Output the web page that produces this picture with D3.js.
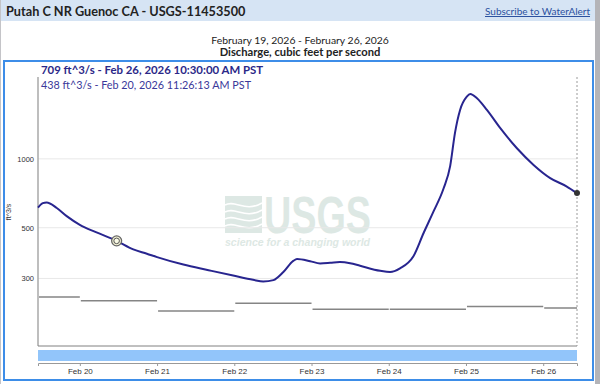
<!DOCTYPE html>
<html>
<head>
<meta charset="utf-8">
<script src="https://cdn.jsdelivr.net/npm/d3@7"></script>
<style>
  body { margin: 0; background: #fff; }
  svg { display: block; }
</style>
</head>
<body>
<svg id="chart"></svg>
<script>
// discharge readings, ft^3/s
const times = [
  "2026-02-19 11:00", "2026-02-19 12:30", "2026-02-19 13:40",
  "2026-02-19 16:50", "2026-02-19 19:55", "2026-02-20 00:00", "2026-02-20 05:00",
  "2026-02-20 11:26", "2026-02-20 16:37", "2026-02-20 20:50", "2026-02-21 00:00",
  "2026-02-21 08:10", "2026-02-21 16:00", "2026-02-22 00:00", "2026-02-22 05:50",
  "2026-02-22 09:00", "2026-02-22 12:10", "2026-02-22 15:15", "2026-02-22 18:20",
  "2026-02-22 19:30", "2026-02-22 23:35", "2026-02-23 02:40", "2026-02-23 05:45",
  "2026-02-23 08:50", "2026-02-23 12:00", "2026-02-23 15:05", "2026-02-23 21:20",
  "2026-02-24 00:25", "2026-02-24 03:30", "2026-02-24 07:40", "2026-02-24 10:50",
  "2026-02-24 13:55", "2026-02-24 17:00", "2026-02-24 19:05", "2026-02-24 20:35",
  "2026-02-24 22:10", "2026-02-25 00:15", "2026-02-25 01:20", "2026-02-25 03:25",
  "2026-02-25 06:30", "2026-02-25 10:40", "2026-02-25 15:50", "2026-02-25 21:00",
  "2026-02-26 02:10", "2026-02-26 07:20", "2026-02-26 10:30"
];
const discharge = [
  612, 640, 645,
  610, 562, 515, 478,
  438, 402, 385, 372,
  345, 326, 308, 296,
  291, 295, 320, 358,
  365, 357, 349, 351,
  354, 350, 341, 324,
  320, 332, 375, 474,
  589, 740, 930, 1300,
  1637, 1871, 1923, 1841,
  1637, 1362, 1113, 941,
  824, 757, 709
];

// daily median (gray steps)
const stepStarts = ["2026-02-19 11:00", "2026-02-20 00:00", "2026-02-21 00:00", "2026-02-22 00:00",
                    "2026-02-23 00:00", "2026-02-24 00:00", "2026-02-25 00:00", "2026-02-26 00:00"];
const stepEnds   = ["2026-02-20 00:00", "2026-02-21 00:00", "2026-02-22 00:00", "2026-02-23 00:00",
                    "2026-02-24 00:00", "2026-02-25 00:00", "2026-02-26 00:00", "2026-02-26 10:30"];
const medians    = [249, 240, 216, 234, 220, 220, 226, 223];

const yTicks = [300, 500, 1000];
const hoverTime = "2026-02-20 11:26", hoverValue = 438;

const stationTitle = "Putah C NR Guenoc CA - USGS-11453500";
const linkText = "Subscribe to WaterAlert";
const dateRange = "February 19, 2026 - February 26, 2026";
const paramName = "Discharge, cubic feet per second";
const legend1 = "709 ft^3/s - Feb 26, 2026 10:30:00 AM PST";
const legend2 = "438 ft^3/s - Feb 20, 2026 11:26:13 AM PST";

const parse = d3.timeParse("%Y-%m-%d %H:%M");
const data = times.map((t, i) => ({date: parse(t), value: discharge[i]}));
const steps = medians.map((v, i) => ({a: parse(stepStarts[i]), b: parse(stepEnds[i]), value: v}));

const W = 600, H = 384;
const font = "Lato, 'Open Sans', sans-serif";
const svg = d3.select("#chart").attr("width", W).attr("height", H);

// page header
svg.append("rect").attr("x", 0).attr("y", 0).attr("width", 596).attr("height", 21).attr("fill", "#d6e4f4");
svg.append("rect").attr("x", 595).attr("y", 0).attr("width", 5).attr("height", H).attr("fill", "#b4b4b8");
svg.append("rect").attr("x", 0).attr("y", 0).attr("width", 1).attr("height", H).attr("fill", "#c4c4c8");
svg.append("text").attr("x", 6).attr("y", 16)
  .attr("font-family", font).attr("font-size", 12.7).attr("font-weight", "bold")
  .attr("fill", "#222").text(stationTitle);
svg.append("text").attr("x", 590).attr("y", 15).attr("text-anchor", "end")
  .attr("font-family", font).attr("font-size", 10)
  .attr("fill", "#2c52a0").attr("text-decoration", "underline").text(linkText);
svg.append("text").attr("x", 300).attr("y", 44).attr("text-anchor", "middle")
  .attr("font-family", font).attr("font-size", 10.4)
  .attr("fill", "#222").text(dateRange);
svg.append("text").attr("x", 300).attr("y", 56).attr("text-anchor", "middle")
  .attr("font-family", font).attr("font-size", 11.2).attr("font-weight", "bold")
  .attr("fill", "#222").text(paramName);

// chart frame
svg.append("rect").attr("x", 4).attr("y", 61).attr("width", 589).attr("height", 319)
  .attr("fill", "none").attr("stroke", "#3d8de8").attr("stroke-width", 2);

const plotLeft = 38, plotRight = 577, plotTop = 77, plotBottom = 346;

const x = d3.scaleTime()
  .domain([parse("2026-02-19 11:00"), parse("2026-02-26 10:30")])
  .range([plotLeft, plotRight]);
const y = d3.scaleLog()
  .domain([152, 2280])
  .range([plotBottom, plotTop]);

// watermark
const wm = svg.append("g").attr("fill", "#dde8e4");
wm.append("rect").attr("x", 225).attr("y", 196).attr("width", 37).attr("height", 37);
[0, 1, 2, 3].forEach(i => {
  wm.append("path")
    .attr("d", `M225 ${205 + i * 7} C 235 ${199 + i * 7}, 245 ${213 + i * 7}, 262 ${203 + i * 7}`)
    .attr("fill", "none").attr("stroke", "#fff").attr("stroke-width", 1.6);
});
wm.append("text").attr("transform", "translate(264,233) scale(1,1.3)")
  .attr("font-family", "'Liberation Sans Narrow', 'Liberation Sans', sans-serif")
  .attr("font-weight", "bold").attr("font-size", 40)
  .attr("textLength", 107).attr("lengthAdjust", "spacingAndGlyphs").text("USGS");
wm.append("text").attr("x", 225).attr("y", 246)
  .attr("font-family", "'Liberation Sans', sans-serif").attr("font-style", "italic")
  .attr("font-weight", "bold").attr("font-size", 10)
  .attr("textLength", 145).attr("lengthAdjust", "spacingAndGlyphs").text("science for a changing world");

// grid lines
svg.append("g").selectAll("line").data(yTicks).join("line")
  .attr("x1", plotLeft).attr("x2", plotRight)
  .attr("y1", d => y(d)).attr("y2", d => y(d))
  .attr("stroke", "#e8e8e8").attr("stroke-width", 1);

// y axis
const yAxis = svg.append("g").attr("transform", `translate(${plotLeft},0)`)
  .call(d3.axisLeft(y).tickValues(yTicks).tickSize(0).tickPadding(4).tickFormat(d3.format("d")));
yAxis.select(".domain").remove();
yAxis.selectAll("text").attr("font-family", "'Liberation Sans', Arial, sans-serif")
  .attr("font-size", 7.5).attr("fill", "#333");
svg.append("line").attr("x1", plotLeft).attr("x2", plotLeft).attr("y1", plotTop).attr("y2", plotBottom)
  .attr("stroke", "#a8a8a8").attr("stroke-width", 1.5);
svg.append("text").attr("transform", "translate(11,212) rotate(-90)")
  .attr("text-anchor", "middle")
  .attr("font-family", "'Liberation Sans', Arial, sans-serif").attr("font-size", 7)
  .attr("fill", "#333").text("ft^3/s");

// plot bottom line
svg.append("line").attr("x1", plotLeft).attr("x2", plotRight).attr("y1", plotBottom).attr("y2", plotBottom)
  .attr("stroke", "#808080").attr("stroke-width", 1);

// median steps
svg.append("g").selectAll("line").data(steps).join("line")
  .attr("x1", d => x(d.a) + 1).attr("x2", d => x(d.b))
  .attr("y1", d => y(d.value)).attr("y2", d => y(d.value))
  .attr("stroke", "#858585").attr("stroke-width", 1.5);

// current-time dashed marker
const last = data[data.length - 1];
svg.append("line").attr("x1", x(last.date)).attr("x2", x(last.date))
  .attr("y1", plotTop).attr("y2", plotBottom)
  .attr("stroke", "#9a9a9a").attr("stroke-dasharray", "2,2");

// discharge line
const line = d3.line().curve(d3.curveMonotoneX)
  .x(d => x(d.date)).y(d => y(d.value));
svg.append("path").datum(data)
  .attr("fill", "none").attr("stroke", "#28258f").attr("stroke-width", 2)
  .attr("stroke-linejoin", "round").attr("d", line);

svg.append("circle").attr("cx", x(last.date)).attr("cy", y(last.value)).attr("r", 3)
  .attr("fill", "#333");
const hx = x(parse(hoverTime)), hy = y(hoverValue);
svg.append("circle").attr("cx", hx).attr("cy", hy).attr("r", 5)
  .attr("fill", "#f4f3d6").attr("stroke", "#666").attr("stroke-width", 1.3);
svg.append("circle").attr("cx", hx).attr("cy", hy).attr("r", 2.8)
  .attr("fill", "#fbfbe6").attr("stroke", "#555").attr("stroke-width", 1);

// legend text
svg.append("text").attr("x", 41).attr("y", 74)
  .attr("font-family", font).attr("font-size", 11.4).attr("font-weight", "bold")
  .attr("fill", "#2b2888").text(legend1);
svg.append("text").attr("x", 41).attr("y", 89)
  .attr("font-family", font).attr("font-size", 10.8)
  .attr("fill", "#3a389a").text(legend2);

// navigator strip + bottom axis
svg.append("rect").attr("x", plotLeft).attr("y", 350).attr("width", plotRight - plotLeft).attr("height", 11)
  .attr("fill", "#92c5fa");
const xAxis = svg.append("g").attr("transform", "translate(0,363)")
  .call(d3.axisBottom(x).ticks(d3.timeDay.every(1)).tickSize(3).tickPadding(2)
    .tickFormat(d3.timeFormat("%b %d")));
xAxis.select(".domain").attr("stroke", "#999");
xAxis.selectAll(".tick line").attr("stroke", "#999");
xAxis.selectAll("text").attr("font-family", "'Liberation Sans', Arial, sans-serif")
  .attr("font-size", 8).attr("fill", "#333");
</script>
</body>
</html>
